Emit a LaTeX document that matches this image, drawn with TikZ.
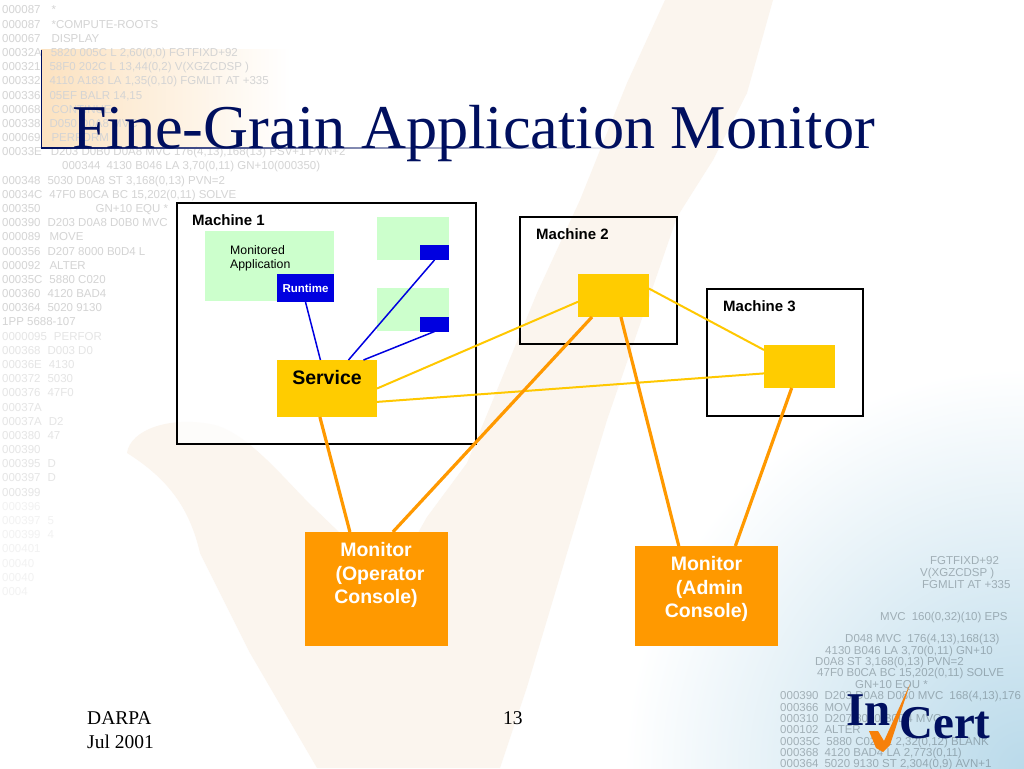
\documentclass[tikz,border=0pt]{standalone}
\usepackage{fontspec}
\setmainfont{Liberation Serif}
\setsansfont{Liberation Sans}
\definecolor{navy}{RGB}{0,15,95}
\definecolor{appgreen}{RGB}{204,255,204}
\definecolor{rtblue}{RGB}{0,0,224}
\definecolor{svcyellow}{RGB}{255,204,0}
\definecolor{monorange}{RGB}{255,153,0}
\definecolor{paleorange}{RGB}{251,245,238}
\definecolor{titleorange}{RGB}{252,226,192}
\definecolor{logoblue}{RGB}{186,218,234}
\tikzset{
  filled/.style={inner sep=0, outer sep=0},
  app/.style={filled, fill=appgreen},
  runtime/.style={filled, fill=rtblue},
  service/.style={filled, fill=svcyellow},
  monitor/.style={filled, fill=monorange},
  machine/.style={filled, draw=black, line width=1.4pt},
  rtlink/.style={draw=rtblue, line width=1.5pt},
  svclink/.style={draw=svcyellow!95!orange, line width=2pt},
  monlink/.style={draw=monorange, line width=3.2pt},
  code/.style={anchor=base west, inner sep=0, font=\sffamily\fontsize{11.5}{12}\selectfont},
  mlabel/.style={anchor=base west, inner sep=0, font=\sffamily\bfseries\fontsize{15}{18}\selectfont},
  molabel/.style={inner sep=0, align=center, text=white, font=\sffamily\bfseries\fontsize{19.5}{23.5}\selectfont},
  foot/.style={anchor=base west, inner sep=0, font=\fontsize{19.5}{24}\selectfont}
}
\begin{document}
\begin{tikzpicture}[x=1pt, y=-1pt]
  \useasboundingbox (0,0) rectangle (1024,768);
  % backdrop
  \fill[white] (0,0) rectangle (1024,768);
  \begin{scope}
    \clip (0,0) rectangle (1024,768);
    \shade[inner color=logoblue, outer color=white] (1024,768) circle (400);
  \end{scope}
  \shade[left color=titleorange, right color=white] (41,50) rectangle (290,148);
  \fill[paleorange] (127,453) .. controls (130,430) and (170,415) .. (215,425)
    .. controls (250,435) and (285,480) .. (313,507) -- (340,533) -- (380,600) -- (427,517) -- (467,463)
    -- (537,293) -- (580,200) -- (627,83) -- (665,0) -- (773,0) -- (747,93) -- (713,160) -- (677,217)
    -- (607,420) -- (567,553) -- (527,687) -- (500,768) -- (317,768) -- (250,653) -- (200,553)
    .. controls (190,510) and (170,480) .. (127,453) -- cycle;
  \foreach \txt [count=\i] in {000087\hspace{11pt}*, 000087\hspace{11pt}*COMPUTE-ROOTS, 000067\hspace{11pt}DISPLAY,
    {00032A\hspace{9pt}5820 005C L 2,60(0,0) FGTFIXD+92}, {000321\hspace{9pt}58F0 202C L 13,44(0,2) V(XGZCDSP )},
    {000332\hspace{9pt}4110 A183 LA 1,35(0,10) FGMLIT AT +335}, {000336\hspace{9pt}05EF BALR 14,15},
    000068\hspace{11pt}CONTINUE, 000338\hspace{9pt}D050 D0A8 MVC, 000069\hspace{11pt}PERFORM,
    {00033E\hspace{9pt}D203 D0B0 D0A8 MVC 176(4,13),168(13) PSV+1 PVN+2},
    {\hspace{60pt}000344\hspace{6pt}4130 B046 LA 3,70(0,11) GN+10(000350)},
    {000348\hspace{7pt}5030 D0A8 ST 3,168(0,13) PVN=2}, {00034C\hspace{7pt}47F0 B0CA BC 15,202(0,11) SOLVE},
    000350\hspace{55pt}GN+10 EQU *, 000390\hspace{7pt}D203 D0A8 D0B0 MVC, 000089\hspace{9pt}MOVE,
    000356\hspace{7pt}D207 8000 B0D4 L, 000092\hspace{9pt}ALTER, 00035C\hspace{7pt}5880 C020,
    000360\hspace{7pt}4120 BAD4, 000364\hspace{7pt}5020 9130, 1PP 5688-107, 0000095\hspace{7pt}PERFOR,
    000368\hspace{7pt}D003 D0, 00036E\hspace{7pt}4130, 000372\hspace{7pt}5030, 000376\hspace{7pt}47F0,
    00037A, 00037A\hspace{7pt}D2, 000380\hspace{7pt}47, 000390, 000395\hspace{7pt}D, 000397\hspace{7pt}D,
    000399, 000396, 000397\hspace{7pt}5, 000399\hspace{7pt}4, 000401, 00040, 00040, 0004}
  {
    \pgfmathsetmacro{\ypos}{14+14.18*(\i-1)}
    \pgfmathsetmacro{\fade}{\i<24 ? 17 : (\i<36 ? 10 : 5)}
    \node[code, text=black!\fade] (code\i) at (2,\ypos) {\txt};
  }
  \foreach \xpos/\ypos/\txt in {930/564/FGTFIXD+92, 920/576/V(XGZCDSP ), 922/588/FGMLIT AT +335,
    880/620/{MVC\hspace{6pt}160(0,32)(10) EPS}, 845/642/{D048 MVC\hspace{6pt}176(4,13),168(13)},
    825/654/{4130 B046 LA 3,70(0,11) GN+10}, 815/665/{D0A8 ST 3,168(0,13) PVN=2},
    817/676/{47F0 B0CA BC 15,202(0,11) SOLVE}, 855/688/GN+10 EQU *,
    780/699/{000390\hspace{6pt}D203 D0A8 D080 MVC\hspace{6pt}168(4,13),176},
    780/711/000366\hspace{6pt}MOVE, 780/722/000310\hspace{6pt}D207 8000 B0D4 MVC,
    780/733/000102\hspace{6pt}ALTER, 780/745/{00035C\hspace{6pt}5880 C020 L 2,32(0,12) BLANK},
    780/756/{000368\hspace{6pt}4120 BAD4 LA 2,773(0,11)}, 780/767/{000364\hspace{6pt}5020 9130 ST 2,304(0,9) AVN+1}}
  {
    \node[code, text=black!55!logoblue, text opacity=0.45] at (\xpos,\ypos) {\txt};
  }
  % title
  \shade[left color=navy, right color=white] (41,147.2) rectangle (655,148.6);
  \fill[navy] (40.5,50) rectangle (42,148.6);
  \node[anchor=base west, inner sep=0, text=navy, font=\fontsize{62.3}{62}\selectfont] (title) at (72,148) {Fine-Grain Application Monitor};
  % machines
  \node[machine, fill=white, fill opacity=0.75, minimum width=299, minimum height=241] (mach1) at (326.5,323.5) {};
  \node[machine, minimum width=157, minimum height=127] (mach2) at (598.5,280.5) {};
  \node[machine, minimum width=156, minimum height=127] (mach3) at (785,352.5) {};
  \node[mlabel] (mach1label) at (192,225) {Machine 1};
  \node[mlabel] (mach2label) at (536,239) {Machine 2};
  \node[mlabel] (mach3label) at (723,311) {Machine 3};
  % applications
  \node[app, minimum width=129, minimum height=70] (app1) at (269.5,266) {};
  \node[app, minimum width=72, minimum height=43] (app2) at (413,238.5) {};
  \node[app, minimum width=72, minimum height=43] (app3) at (413,309.5) {};
  \node[anchor=north west, inner sep=0, align=left, font=\sffamily\fontsize{12.3}{14.6}\selectfont] (app1label) at (230,245) {Monitored\\Application};
  \node[runtime, minimum width=57, minimum height=28, text=white, font=\sffamily\bfseries\fontsize{11.5}{14}\selectfont] (rt1) at (305.5,288) {Runtime};
  \node[runtime, minimum width=29, minimum height=15] (rt2) at (434.5,252.5) {};
  \node[runtime, minimum width=29, minimum height=15] (rt3) at (434.5,324) {};
  % services
  \node[service, minimum width=100, minimum height=57] (svc) at (327,388.5) {};
  \node[inner sep=0, font=\sffamily\bfseries\fontsize{19.5}{22}\selectfont] (svclabel) at (327,378) {Service};
  \node[service, minimum width=71, minimum height=43] (svc2) at (613.5,295.5) {};
  \node[service, minimum width=71, minimum height=43] (svc3) at (799.5,366.5) {};
  % monitors
  \node[monitor, minimum width=143, minimum height=114] (mon1) at (376.5,589) {};
  \node[monitor, minimum width=143, minimum height=100] (mon2) at (706.5,596) {};
  \node[molabel] (mon1label) at (376,575) {Monitor\\\hspace*{8pt}(Operator\\Console)};
  \node[molabel] (mon2label) at (706.5,589) {Monitor\\\hspace*{6pt}(Admin\\Console)};
  % links
  \draw[rtlink] (rt1.south) -- (svc.103.8);
  \draw[rtlink] (rt2.south) -- (svc.53.6);
  \draw[rtlink] (rt3.south) -- (svc.38.4);
  \draw[svclink] (svc.east) -- (svc2.190.4);
  \draw[svclink] (svc.-15.1) -- (svc3.191.9);
  \draw[svclink] (svc2.11.9) -- (svc3.155);
  \draw[monlink] (svc.256.2) -- (mon1.115.8);
  \draw[monlink] (svc2.225) -- (mon1.74.8);
  \draw[monlink] (svc2.289.2) -- (mon2.119.7);
  \draw[monlink] (svc3.250.8) -- (mon2.60.3);
  % footer
  \node[foot] (darpa) at (87,724) {DARPA};
  \node[foot] (jul) at (87,748) {Jul 2001};
  \node[foot] (pageno) at (503,724) {13};
  % logo
  \node[anchor=base west, inner sep=0, text=navy, font=\bfseries\fontsize{47}{47}\selectfont] (logoin) at (846,725) {In};
  \node[anchor=base west, inner sep=0, text=navy, font=\bfseries\fontsize{47}{47}\selectfont] (logocert) at (899,738) {Cert};
  \fill[orange!85!brown] (869,731) -- (878,731) -- (884,741) -- (910,684) -- (890,745) -- (883,752) -- (876,748) -- cycle;
\end{tikzpicture}
\end{document}
